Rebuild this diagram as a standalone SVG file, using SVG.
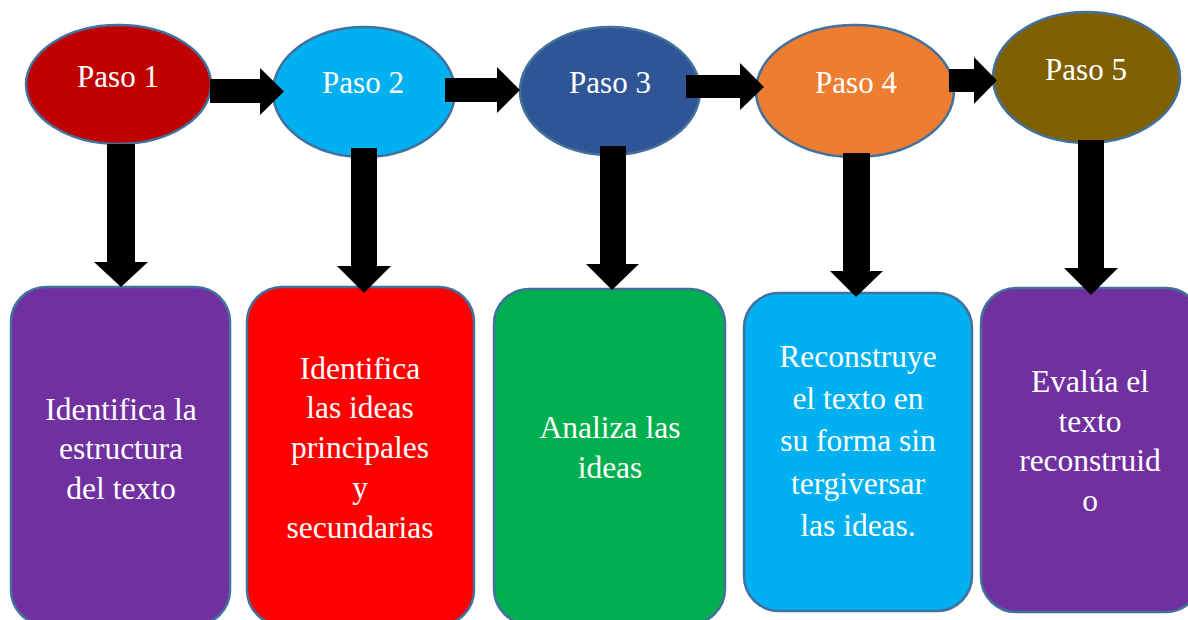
<svg xmlns="http://www.w3.org/2000/svg" width="1188" height="620" viewBox="0 0 1188 620">
<style>
.shape{stroke:#41719C;stroke-width:2.5}
.t{font-family:"Liberation Serif","Times New Roman",serif;fill:#FFFFFF;text-anchor:middle}
.h{font-size:31px}
.b{font-size:31.5px}
.arrow{fill:#000000}
</style>
<rect width="1188" height="620" fill="#FFFFFF"/>
<g id="paso1">
<ellipse class="shape" cx="118.5" cy="84.5" rx="92.5" ry="59.5" fill="#C00000"/>
<text class="t h" x="118" y="87">Paso 1</text>
</g>
<g id="paso2">
<ellipse class="shape" cx="364" cy="92" rx="91" ry="65" fill="#00B0F0"/>
<text class="t h" x="363" y="93">Paso 2</text>
</g>
<g id="paso3">
<ellipse class="shape" cx="610" cy="91" rx="90" ry="64" fill="#2F5597"/>
<text class="t h" x="610" y="93">Paso 3</text>
</g>
<g id="paso4">
<ellipse class="shape" cx="855" cy="91" rx="99" ry="66" fill="#ED7D31"/>
<text class="t h" x="856" y="93">Paso 4</text>
</g>
<g id="paso5">
<ellipse class="shape" cx="1086.5" cy="77.5" rx="93.5" ry="65.5" fill="#7F6000"/>
<text class="t h" x="1086" y="80">Paso 5</text>
</g>
<g id="box1">
<rect class="shape" x="11" y="287" width="219" height="338" rx="35" ry="35" fill="#7030A0"/>
<text class="t b" x="121"><tspan x="121" y="420">Identifica la</tspan><tspan x="121" y="459">estructura</tspan><tspan x="121" y="499">del texto</tspan></text>
</g>
<g id="box2">
<rect class="shape" x="247" y="287" width="227" height="338" rx="35" ry="35" fill="#FF0000"/>
<text class="t b" x="360"><tspan x="360" y="379">Identifica</tspan><tspan x="360" y="418">las ideas</tspan><tspan x="360" y="458">principales</tspan><tspan x="360" y="498">y</tspan><tspan x="360" y="538">secundarias</tspan></text>
</g>
<g id="box3">
<rect class="shape" x="494" y="289" width="231" height="335" rx="35" ry="35" fill="#00B050"/>
<text class="t b" x="610"><tspan x="610" y="438">Analiza las</tspan><tspan x="610" y="478">ideas</tspan></text>
</g>
<g id="box4">
<rect class="shape" x="744" y="293" width="228" height="318" rx="35" ry="35" fill="#00B0F0"/>
<text class="t b" x="858"><tspan x="858" y="367">Reconstruye</tspan><tspan x="858" y="409">el texto en</tspan><tspan x="858" y="451">su forma sin</tspan><tspan x="858" y="494">tergiversar</tspan><tspan x="858" y="536">las ideas.</tspan></text>
</g>
<g id="box5">
<rect class="shape" x="981" y="288" width="220" height="324" rx="35" ry="35" fill="#7030A0"/>
<text class="t b" x="1090"><tspan x="1090" y="392">Evalúa el</tspan><tspan x="1090" y="432">texto</tspan><tspan x="1090" y="471">reconstruid</tspan><tspan x="1090" y="511">o</tspan></text>
</g>
<g id="connectors">
<polygon class="arrow" points="210,79 260,79 260,68 284,91.5 260,115 260,103 210,103"/>
<polygon class="arrow" points="445,78 497,78 497,67 520,90 497,113 497,102 445,102"/>
<polygon class="arrow" points="686,75 740,75 740,63 764,87 740,110 740,98 686,98"/>
<polygon class="arrow" points="949,69 974,69 974,57 997,80.5 974,104 974,92 949,92"/>
<polygon class="arrow" points="107,144 135,144 135,262 148,262 121,287 94,262 107,262"/>
<polygon class="arrow" points="351,148 377,148 377,266 391,266 364,293 337,266 351,266"/>
<polygon class="arrow" points="600,146 626,146 626,264 639,264 612,290 586,264 600,264"/>
<polygon class="arrow" points="843,153 870,153 870,271 883,271 856,297 830,271 843,271"/>
<polygon class="arrow" points="1078,140 1104,140 1104,268 1118,268 1091,295 1064,268 1078,268"/>
</g>
</svg>
